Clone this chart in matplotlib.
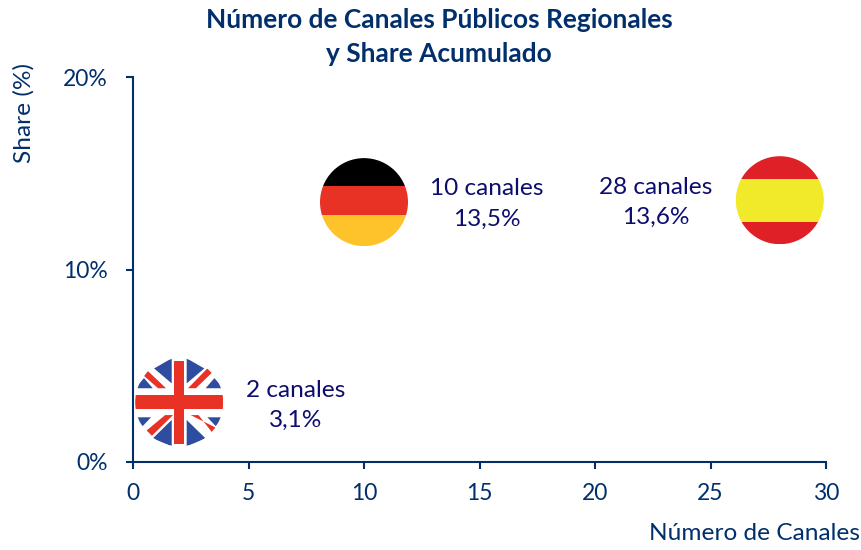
import matplotlib
matplotlib.use('Agg')
import matplotlib.pyplot as plt
from matplotlib.patches import Circle, Rectangle, Polygon
from matplotlib.transforms import Affine2D

plt.rcParams['font.family'] = ['Lato', 'DejaVu Sans']

# data
canales = [2, 10, 28]
share = [3.1, 13.5, 13.6]
paises = ['uk', 'de', 'es']
etiquetas = ['2 canales\n3,1%', '10 canales\n13,5%', '28 canales\n13,6%']
xticks = [0, 5, 10, 15, 20, 25, 30]
yticks = [0, 10, 20]
ylabels = ['0%', '10%', '20%']

W, H = 861, 550
AZUL = '#002f6c'
TEXTO = '#0d0d6e'

fig = plt.figure(figsize=(W / 100, H / 100), dpi=100)
ax = fig.add_axes([133 / W, 1 - 462 / H, 693 / W, 385 / H])
ax.set_xlim(0, 30)
ax.set_ylim(0, 20)

for s in ['top', 'right']:
    ax.spines[s].set_visible(False)
for s in ['left', 'bottom']:
    ax.spines[s].set_color(AZUL)
    ax.spines[s].set_linewidth(1.5)

ax.set_xticks(xticks)
ax.set_yticks(yticks)
ax.set_yticklabels(ylabels)
ax.tick_params(colors=AZUL, labelsize=16.5, length=5, width=1.5)
ax.tick_params(axis='x', pad=10)
ax.tick_params(axis='y', pad=13)

fig.text(439 / W, 1 - 20 / H, 'Número de Canales Públicos Regionales', ha='center', va='center',
         fontsize=18.9, fontweight='bold', color=AZUL)
fig.text(439 / W, 1 - 54 / H, 'y Share Acumulado', ha='center', va='center',
         fontsize=18.9, fontweight='bold', color=AZUL)
fig.text(24 / W, 1 - 113 / H, 'Share (%)', rotation=90, ha='center', va='center',
         fontsize=17.6, color=AZUL)
fig.text(860 / W, 1 - 533 / H, 'Número de Canales', ha='right', va='center',
         fontsize=17.6, color=AZUL)


def bandera(pais, x, y, r=44):
    # flag drawn in unit coords (-1..1), scaled to pixels around the data point
    px, py = ax.transData.transform((x, y))
    tr = Affine2D().scale(r).translate(px, py)
    if pais == 'de':
        formas = [Rectangle((-1, 0.37), 2, 0.63, color='#000000'),
                  Rectangle((-1, -0.30), 2, 0.67, color='#e93226'),
                  Rectangle((-1, -1), 2, 0.70, color='#fec32a')]
    elif pais == 'es':
        formas = [Rectangle((-1, 0.49), 2, 0.51, color='#e02027'),
                  Rectangle((-1, -0.49), 2, 0.98, color='#f0ea2a'),
                  Rectangle((-1, -1), 2, 0.51, color='#e02027')]
    else:
        azul = '#2f4da0'
        rojo = '#e93226'
        formas = [Rectangle((-1, -1), 2, 2, color='white')]
        for sx in (1, -1):
            formas += [Polygon([(sx * -0.57, 0.77), (sx * -0.17, 1.0), (sx * -0.17, 0.43)], color=azul),
                       Polygon([(sx * -1.0, 0.32), (sx * -0.6, 0.32), (sx * -0.8, 0.55)], color=azul),
                       Polygon([(sx * -1.0, -0.34), (sx * -0.64, -0.34), (sx * -0.83, -0.54)], color=azul),
                       Polygon([(sx * -0.6, -0.82), (sx * -0.17, -0.40), (sx * -0.17, -1.0)], color=azul)]
        formas += [Polygon([(-0.80, 0.60), (-0.72, 0.72), (-0.30, 0.32), (-0.48, 0.32)], color=rojo),
                   Polygon([(0.64, 0.77), (0.74, 0.67), (0.38, 0.32), (0.20, 0.32)], color=rojo),
                   Polygon([(-0.74, -0.64), (-0.62, -0.76), (-0.14, -0.29), (-0.32, -0.29)], color=rojo),
                   Polygon([(0.84, -0.58), (0.76, -0.70), (0.44, -0.29), (0.26, -0.29)], color=rojo),
                   Rectangle((-0.115, -0.95), 0.23, 1.9, color=rojo),
                   Rectangle((-1, -0.16), 2, 0.32, color=rojo)]
    borde = Circle((0, 0), 1, transform=tr, fc='none', ec='none')
    ax.add_artist(borde)
    for f in formas:
        f.set_transform(tr)
        f.set_linewidth(0)
        ax.add_artist(f)
        f.set_clip_path(borde)


desplaza = [(116, -3), (123, -2), (-124, -2)]
for x, y, pais, et, d in zip(canales, share, paises, etiquetas, desplaza):
    bandera(pais, x, y)
    ax.annotate(et, (x, y), xytext=(d[0] * 0.72, d[1] * 0.72), textcoords='offset points',
                ha='center', va='center', fontsize=17.6, color=TEXTO, linespacing=1.55)

fig.savefig('out.png', dpi=100)
